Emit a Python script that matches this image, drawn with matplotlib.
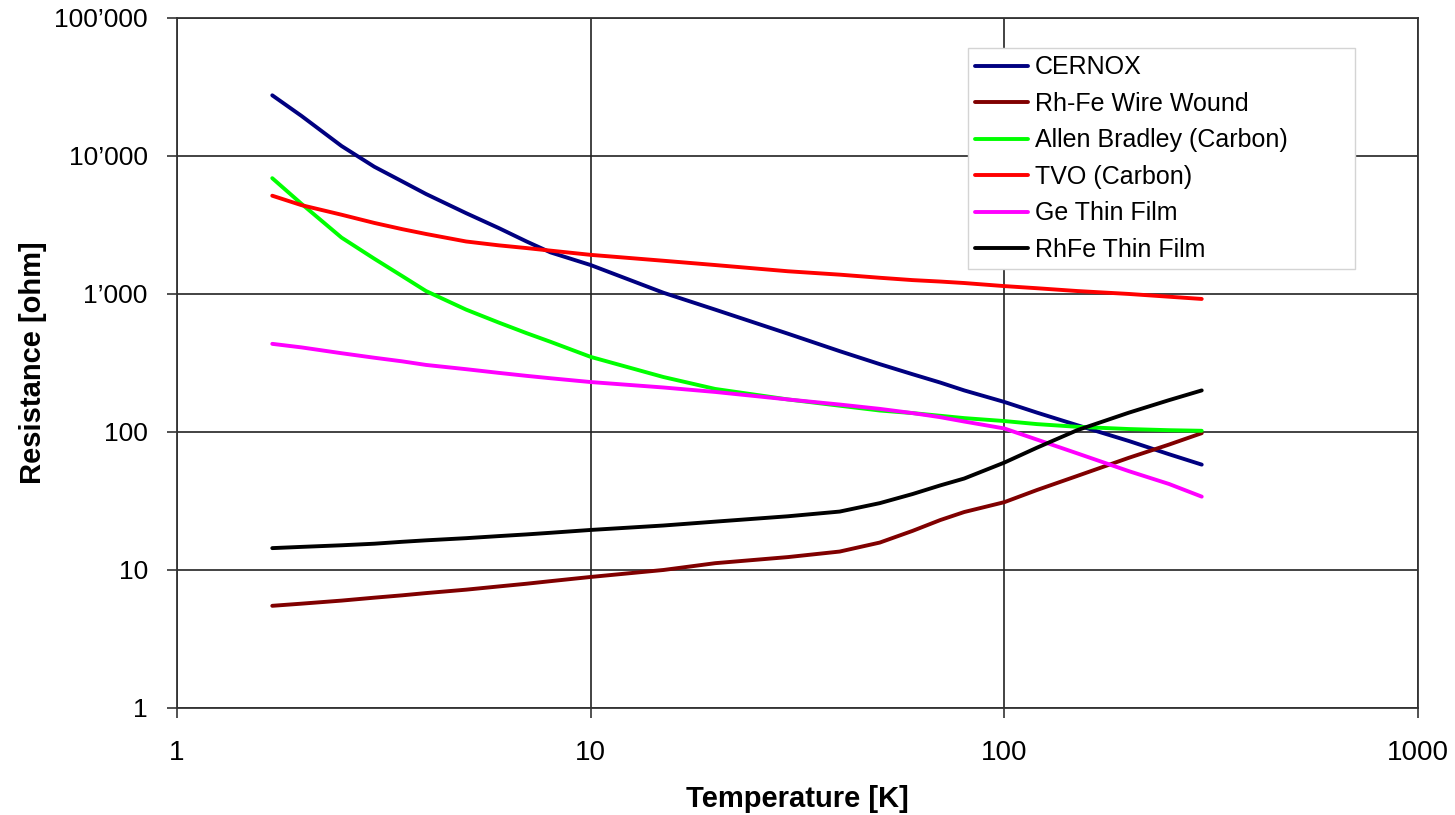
import matplotlib
matplotlib.use('Agg')
import numpy as np
from matplotlib import pyplot as plt

plt.rcParams['font.family'] = ['Liberation Sans', 'DejaVu Sans']

# temperature points [K]
temp = [1.7, 2, 2.5, 3, 3.5, 4, 5, 6, 7, 8, 10, 15, 20, 30, 40, 50, 60, 70, 80,
        100, 120, 150, 200, 250, 300]

# resistance [ohm] for each sensor
cernox = [27500, 19500, 11800, 8350, 6550, 5300, 3850, 3000, 2400, 2000, 1620, 1020, 770,
          515, 385, 310, 262, 228, 200, 165, 138, 112, 86, 69, 58]
rhfe_wire = [5.5, 5.7, 6.0, 6.3, 6.55, 6.8, 7.2, 7.6, 7.95, 8.3, 8.9, 10.0, 11.2, 12.4,
             13.6, 15.8, 19.2, 23.0, 26.3, 31, 38, 48, 65, 81, 98]
allen_bradley = [6900, 4500, 2560, 1800, 1350, 1050, 770, 620, 520, 450, 350, 250, 205,
                 172, 155, 143, 137, 131, 126, 120, 114, 109, 105, 103, 102]
tvo = [5150, 4400, 3750, 3270, 2950, 2720, 2400, 2250, 2150, 2060, 1920, 1740, 1620, 1460,
       1380, 1310, 1260, 1230, 1200, 1140, 1100, 1050, 1000, 955, 920]
ge_film = [435, 410, 372, 345, 325, 306, 285, 268, 255, 245, 230, 210, 195, 172, 158, 147,
           137, 128, 119, 106, 88, 70, 52, 42, 34]
rhfe_film = [14.4, 14.7, 15.1, 15.5, 16.0, 16.4, 17.0, 17.6, 18.1, 18.6, 19.5, 21.0, 22.4,
             24.5, 26.5, 30.5, 35.5, 41, 46, 60, 77, 103, 138, 170, 200]

series = [cernox, rhfe_wire, allen_bradley, tvo, ge_film, rhfe_film]
names = ['CERNOX', 'Rh-Fe Wire Wound', 'Allen Bradley (Carbon)', 'TVO (Carbon)',
         'Ge Thin Film', 'RhFe Thin Film']
colors = ['#000080', '#800000', '#00ff00', '#ff0000', '#ff00ff', '#000000']

xticks = [1, 10, 100, 1000]
xlabels = ['1', '10', '100', '1000']
yticks = [1, 10, 100, 1000, 10000, 100000]
ylabels = ['1', '10', '100', '1\u2019000', '10\u2019000', '100\u2019000']

fig = plt.figure(figsize=(14.55, 8.15), dpi=100)
ax = fig.add_axes([0.1216, 0.1313, 0.8530, 0.8467])

for y, name, c in zip(series, names, colors):
    ax.plot(temp, y, color=c, lw=2.8, label=name, solid_capstyle='round',
            solid_joinstyle='round')

ax.set_xscale('log')
ax.set_yscale('log')
ax.set_xlim(1, 1000)
ax.set_ylim(1, 100000)
ax.set_xticks(xticks, xlabels, fontsize=20)
ax.set_yticks(yticks, ylabels, fontsize=19)
ax.minorticks_off()
ax.tick_params(axis='both', length=7, width=1.2, color='#333333')
ax.tick_params(axis='x', pad=16)
ax.tick_params(axis='y', pad=14)
ax.grid(True, color='#222222', lw=1.2)
for s in ax.spines.values():
    s.set_color('#333333')
    s.set_linewidth(1.3)

ax.set_xlabel('Temperature [K]', fontsize=21, fontweight='bold', labelpad=14)
ax.set_ylabel('Resistance [ohm]', fontsize=21, fontweight='bold', labelpad=5)

leg = ax.legend(loc='upper left', bbox_to_anchor=(0.637, 0.638, 0.312, 0.3185),
                mode='expand', fontsize=18, frameon=True, fancybox=False,
                edgecolor='#d4d4d4', framealpha=1, handlelength=2.1,
                handletextpad=0.28, labelspacing=0.5, borderpad=0.3,
                borderaxespad=0)
for line in leg.get_lines():
    line.set_linewidth(2.8)

plt.savefig('out.png', dpi=100)
